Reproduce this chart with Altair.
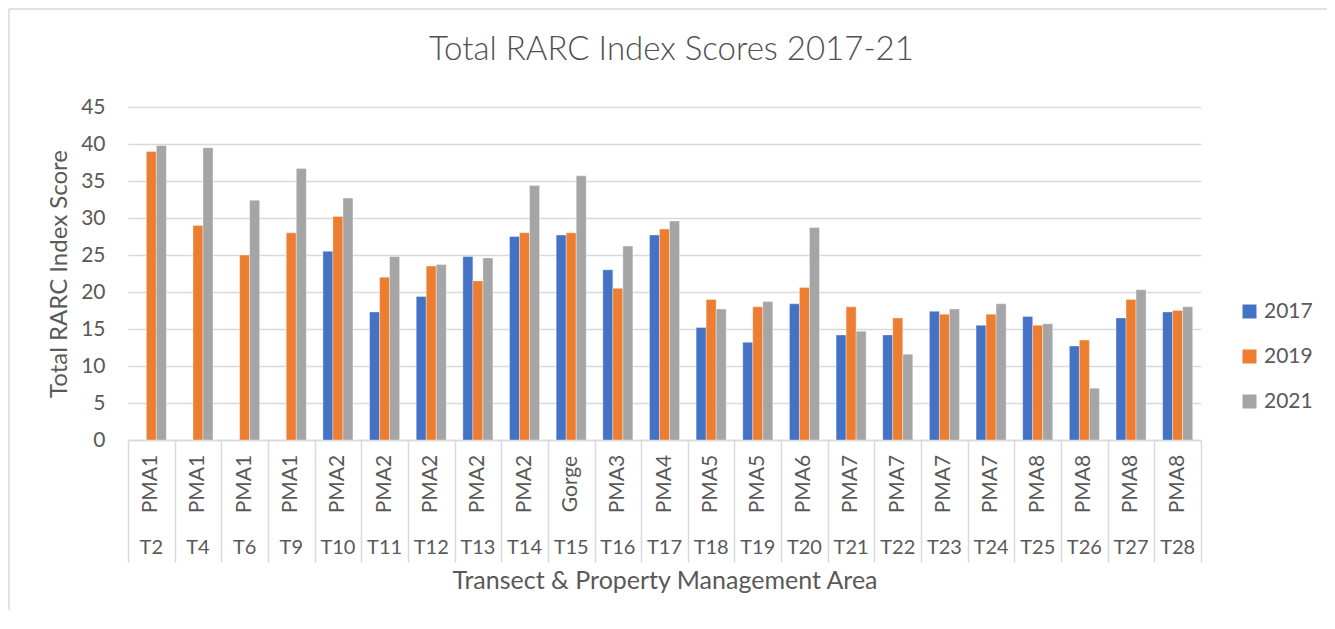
import altair as alt
import pandas as pd

transects = ["T2", "T4", "T6", "T9", "T10", "T11", "T12", "T13", "T14", "T15", "T16", "T17",
             "T18", "T19", "T20", "T21", "T22", "T23", "T24", "T25", "T26", "T27", "T28"]
areas = ["PMA1", "PMA1", "PMA1", "PMA1", "PMA2", "PMA2", "PMA2", "PMA2", "PMA2", "Gorge", "PMA3", "PMA4",
         "PMA5", "PMA5", "PMA6", "PMA7", "PMA7", "PMA7", "PMA7", "PMA8", "PMA8", "PMA8", "PMA8"]
years = ["2017", "2019", "2021"]
s2017 = [None, None, None, None, 25.5, 17.3, 19.4, 24.8, 27.5, 27.7, 23.0, 27.7,
         15.2, 13.2, 18.4, 14.2, 14.2, 17.4, 15.5, 16.7, 12.7, 16.5, 17.3]
s2019 = [39.0, 29.0, 25.0, 28.0, 30.2, 22.0, 23.5, 21.5, 28.0, 28.0, 20.5, 28.5,
         19.0, 18.0, 20.6, 18.0, 16.5, 17.0, 17.0, 15.5, 13.5, 19.0, 17.5]
s2021 = [39.8, 39.5, 32.4, 36.7, 32.7, 24.8, 23.7, 24.6, 34.4, 35.7, 26.2, 29.6,
         17.7, 18.7, 28.7, 14.7, 11.6, 17.7, 18.4, 15.7, 7.0, 20.3, 18.0]
colors = ["#4472C4", "#ED7D31", "#A5A5A5"]

rows = []
for yr, series in zip(years, [s2017, s2019, s2021]):
    for t, v in zip(transects, series):
        if v is not None:
            rows.append({"T": t, "Year": yr, "Score": v})
bars_df = pd.DataFrame(rows)
labels_df = pd.DataFrame({"T": transects, "Area": areas})

FONT = "Lato"
TXT = "#595959"
GRID = "#d9d9d9"
W, H = 1073, 333

x_enc = alt.X(
    "T:N", sort=transects,
    scale=alt.Scale(paddingInner=0, paddingOuter=0),
    axis=alt.Axis(labels=False, ticks=True, tickBand="extent", tickSize=122,
                  tickColor=GRID, tickWidth=1.5, domainColor=GRID, domainWidth=1.5,
                  title="Transect & Property Management Area", titleFont=FONT,
                  titleFontSize=25, titleFontWeight="normal", titleColor=TXT,
                  titlePadding=6),
)

bars = alt.Chart(bars_df).mark_bar(stroke="white", strokeWidth=0.6, strokeOpacity=0.6).encode(
    x=x_enc,
    xOffset=alt.XOffset("Year:N", sort=years,
                        scale=alt.Scale(paddingInner=0, paddingOuter=0.83)),
    y=alt.Y("Score:Q",
            scale=alt.Scale(domain=[0, 45]),
            axis=alt.Axis(values=[0, 5, 10, 15, 20, 25, 30, 35, 40, 45],
                          grid=True, gridColor=GRID, gridWidth=1.5,
                          domain=False, ticks=False,
                          labelFont=FONT, labelFontSize=21, labelColor=TXT, labelPadding=23,
                          title="Total RARC Index Score", titleFont=FONT, titleFontSize=24,
                          titleFontWeight="normal", titleColor=TXT, titlePadding=9)),
    color=alt.Color("Year:N", sort=years,
                    scale=alt.Scale(domain=years, range=colors),
                    legend=alt.Legend(orient="none", legendX=1111, legendY=194, title=None,
                                      symbolType="square", symbolSize=196, symbolStrokeWidth=0,
                                      labelFont=FONT, labelFontSize=21, labelColor=TXT,
                                      rowPadding=23, labelOffset=4, padding=0)),
)

area_text = alt.Chart(labels_df).mark_text(
    angle=270, font=FONT, fontSize=21, color=TXT, align="center", baseline="middle"
).encode(x=alt.X("T:N", sort=transects), y=alt.value(377), text="Area:N")

t_text = alt.Chart(labels_df).mark_text(
    font=FONT, fontSize=20, color=TXT, align="center", baseline="middle"
).encode(x=alt.X("T:N", sort=transects), y=alt.value(441), text="T:N")

frame_df = pd.DataFrame({"k": [0]})
frame_top = alt.Chart(frame_df).mark_rule(color=GRID, strokeWidth=1.5).encode(
    x=alt.value(-119), x2=alt.value(W + 126), y=alt.value(-98))
frame_left = alt.Chart(frame_df).mark_rule(color=GRID, strokeWidth=1.5).encode(
    x=alt.value(-119), y=alt.value(-98), y2=alt.value(H + 170))

chart = alt.layer(frame_top, frame_left, bars, area_text, t_text).properties(
    width=W, height=H,
    title=alt.Title("Total RARC Index Scores 2017-21", font=FONT, fontSize=33,
                    fontWeight=300, color="#505050", anchor="middle", frame="group",
                    baseline="alphabetic", offset=-85, dx=7),
    autosize=alt.AutoSizeParams(type="none"),
    padding={"left": 120, "top": 99, "right": 126, "bottom": 170},
).configure_view(stroke="transparent")

chart.save("out.html", embed_options={"renderer": "svg", "actions": False})
